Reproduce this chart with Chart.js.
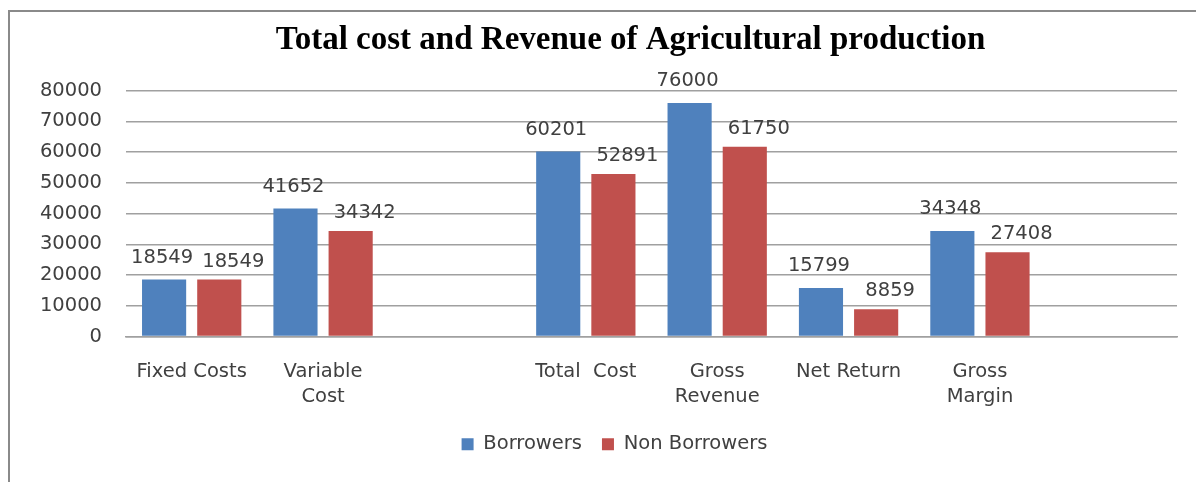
<!DOCTYPE html>
<html>
<head>
<meta charset="utf-8">
<script src="https://cdn.jsdelivr.net/npm/chart.js@4/dist/chart.umd.min.js"></script>
<style>
  html, body { margin: 0; padding: 0; background: #fff; }
  #wrap { position: relative; width: 1196px; height: 482px; overflow: hidden; }
  #frame { position: absolute; left: 8px; top: 10px; width: 1300px; height: 600px;
           border-left: 2px solid #8a8a8a; border-top: 2px solid #8a8a8a; }
  canvas { position: absolute; left: 0; top: 0; }
</style>
</head>
<body>
<div id="wrap">
  <div id="frame"></div>
  <canvas id="chart" width="1196" height="482"></canvas>
</div>
<script>
const categories = ["Fixed Costs", ["Variable", "Cost"], "", "Total  Cost", ["Gross", "Revenue"], "Net Return", ["Gross", "Margin"], ""]
const borrowers = [18549, 41652, null, 60201, 76000, 15799, 34348, null]
const nonBorrowers = [18549, 34342, null, 52891, 61750, 8859, 27408, null]
const seriesNames = ["Borrowers", "Non Borrowers"]
const yMax = 80000
const yStep = 10000

const textFont = "'DejaVu Sans', sans-serif"
const textSize = 19.5
const textColor = "#404040"

// value labels above bars, shifted a bit like the excel original
const labelOffsets = [{dx: -2, dy: -22}, {dx: 14, dy: -18}]
const barLabels = {
  id: "barLabels",
  afterDatasetsDraw(chart) {
    const ctx = chart.ctx
    ctx.save()
    ctx.font = textSize + "px " + textFont
    ctx.fillStyle = textColor
    ctx.textAlign = "center"
    ctx.textBaseline = "middle"
    chart.data.datasets.forEach((ds, i) => {
      const meta = chart.getDatasetMeta(i)
      const off = labelOffsets[i]
      meta.data.forEach((bar, j) => {
        if (ds.data[j] == null) return
        ctx.fillText(ds.data[j], bar.x + off.dx, bar.y + off.dy)
      })
    })
    ctx.restore()
  }
}

// title and legend sit a little right of the canvas centre in the original
const shiftBoxes = {
  id: "shiftBoxes",
  afterLayout(chart) {
    chart.titleBlock.left += 34
    chart.titleBlock.right += 34
    chart.legend.left += 18
    chart.legend.right += 18
  }
}

new Chart(document.getElementById("chart"), {
  type: "bar",
  data: {
    labels: categories,
    datasets: [
      {label: seriesNames[0], data: borrowers, backgroundColor: "#4F81BD"},
      {label: seriesNames[1], data: nonBorrowers, backgroundColor: "#C0504D"}
    ]
  },
  options: {
    responsive: false,
    animation: false,
    devicePixelRatio: 1,
    categoryPercentage: 0.84,
    barPercentage: 0.8,
    layout: {padding: {left: 16, right: 19, top: 10, bottom: 18}},
    scales: {
      x: {
        afterFit(scale) { scale.height = 78 },
        grid: {display: false, drawTicks: false},
        border: {display: true, color: "#a0a0a0", width: 1.5},
        ticks: {
          color: textColor,
          padding: 22,
          maxRotation: 0,
          autoSkip: false,
          font: {family: textFont, size: textSize, lineHeight: 1.33}
        }
      },
      y: {
        min: 0,
        max: yMax,
        afterFit(scale) { scale.width = 110 },
        grid: {color: "#a0a0a0", lineWidth: 1.5, drawTicks: false},
        border: {display: false},
        ticks: {
          stepSize: yStep,
          autoSkip: false,
          color: textColor,
          padding: 24,
          font: {family: textFont, size: textSize},
          callback: v => String(v)
        }
      }
    },
    plugins: {
      title: {
        display: true,
        text: "Total cost and Revenue of Agricultural production",
        color: "#000",
        font: {family: "'Liberation Serif', 'Times New Roman', serif", size: 33, weight: "bold"},
        padding: {top: 11, bottom: 30}
      },
      legend: {
        position: "bottom",
        labels: {
          color: textColor,
          boxWidth: 12,
          boxHeight: 12,
          padding: 20,
          font: {family: textFont, size: textSize}
        }
      },
      tooltip: {enabled: false}
    }
  },
  plugins: [barLabels, shiftBoxes]
})
</script>
</body>
</html>
